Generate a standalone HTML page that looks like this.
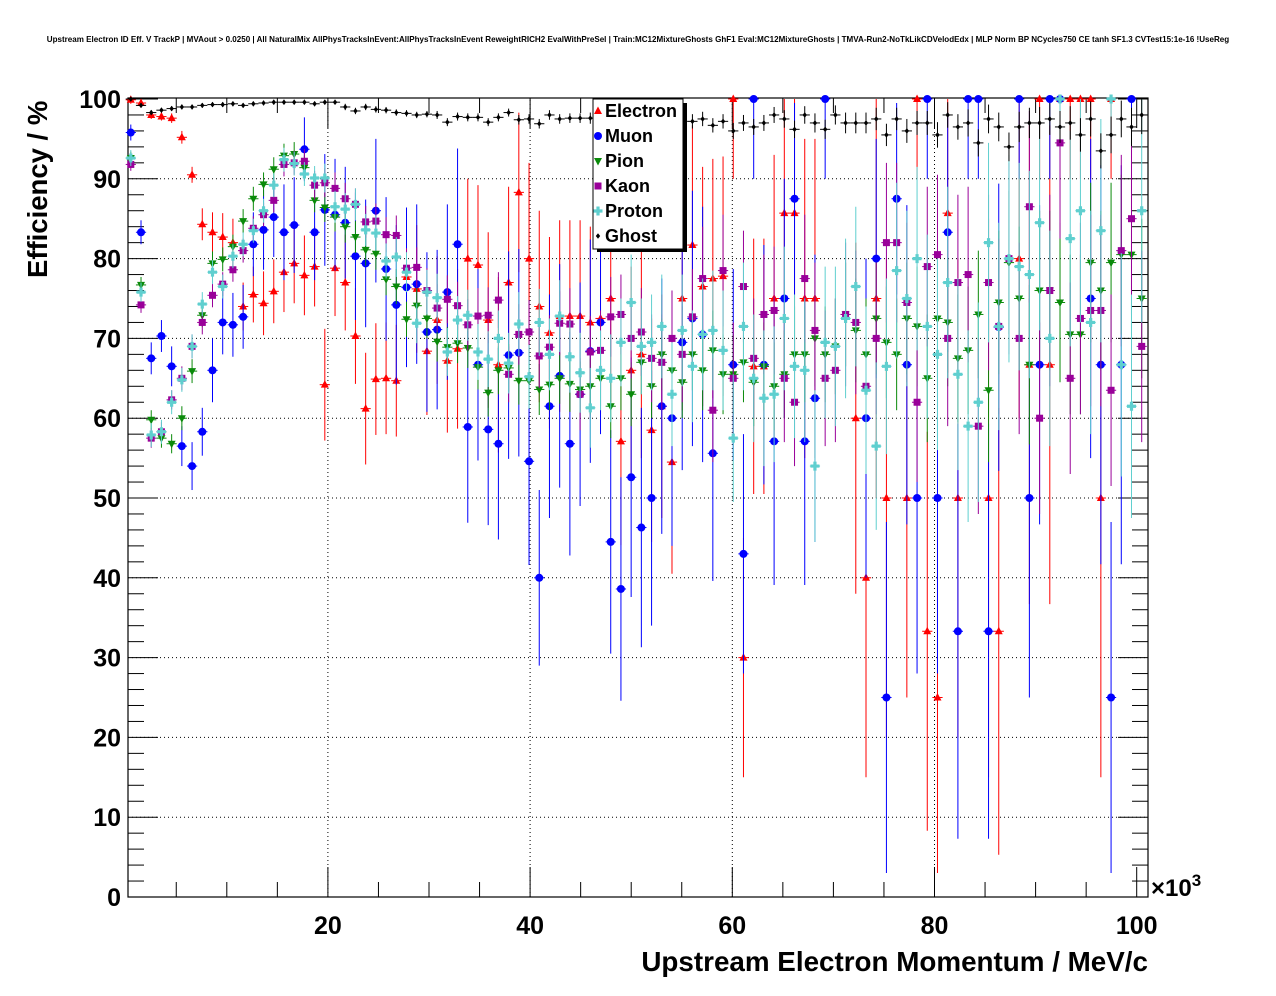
<!DOCTYPE html>
<html><head><meta charset="utf-8"><style>
body{margin:0;background:#fff;}
svg{display:block;font-family:"Liberation Sans",sans-serif;}
</style></head><body>
<svg id="chart" width="1276" height="996" viewBox="0 0 1276 996" xmlns="http://www.w3.org/2000/svg">
<rect x="0" y="0" width="1276" height="996" fill="#fff"/>
<text x="638" y="42" font-size="8.05" font-weight="bold" text-anchor="middle">Upstream Electron ID Eff. V TrackP | MVAout &gt; 0.0250 | All NaturalMix AllPhysTracksInEvent:AllPhysTracksInEvent ReweightRICH2 EvalWithPreSel | Train:MC12MixtureGhosts GhF1 Eval:MC12MixtureGhosts | TMVA-Run2-NoTkLikCDVelodEdx | MLP Norm BP NCycles750 CE tanh SF1.3 CVTest15:1e-16 !UseReg</text>
<g id="grid"></g>
<g id="axes"></g>
<g id="series"></g>
<text transform="translate(47,278) rotate(-90)" font-size="27.5" font-weight="bold">Efficiency / %</text>
<text x="1148" y="971" font-size="27.8" font-weight="bold" text-anchor="end">Upstream Electron Momentum / MeV/c</text>
<text x="1151" y="896" font-size="24" font-weight="bold">×10<tspan font-size="17" dy="-10">3</tspan></text>
<g id="legend"></g>
</svg>
<script>
const yTicks=[0,10,20,30,40,50,60,70,80,90,100];
const xTicks=[20,40,60,80,100];
const binWidth=1.01;
const seriesNames=["Electron","Muon","Pion","Kaon","Proton","Ghost"];
const electronVals=[99.9,99.5,98,97.8,97.6,95.2,90.5,84.3,83.3,82.7,82,74,75.5,74.4,75.9,78.3,79.4,77.9,79,64.2,78.8,77,70.3,61.2,64.9,65,64.7,77.7,76.2,68.4,72.3,67.2,68.7,80,79.2,72.3,66.7,77,88.3,80,74,70.7,72.8,72.8,72.8,72,72.5,75,57.1,66,68,58.5,61.5,54.5,75,81.7,76.5,77.5,77.8,100,30,66.5,66.5,75,85.7,85.7,75,75,null,null,null,60,40,75,50,null,50,100,33.3,25,85.7,50,null,null,50,33.3,null,80,66.7,100,66.7,100,100,100,100,50,100,null,null,null];
const electronErr=[0.5,0.5,0.5,0.5,0.6,0.8,1,2,2.5,3,3,3,3.5,4,4,5,5,5,5,7,6,6,6,7,7,7,7,8,8,8,8,9,10,10,10,11,11,12,10,12,12,12,12,12,12,12,12,13,13,13,13,14,14,14,14,15,15,15,15,10,15,16,16,18,20,20,20,20,0,0,0,22,25,25,30,0,25,10,25,22,20,30,0,0,35,28,0,20,30,10,30,10,10,10,10,35,10,0,0,0];
const muonVals=[95.8,83.3,67.5,70.3,66.5,56.5,54,58.3,66,72,71.7,72.7,81.8,83.6,85.2,83.3,84.2,93.7,83.3,86.1,85.5,84.5,80.3,79.4,86,78.7,74.2,76.4,76.8,70.8,71.1,75.8,81.8,58.9,66.7,58.6,56.8,67.9,68.2,54.6,40,61.5,65.3,56.8,63,68.4,72,44.5,38.6,52.6,46.3,50,61.5,60,69.5,72.5,70.5,55.6,null,66.7,43,100,66.7,57.1,75,87.5,57.1,62.5,100,null,null,null,60,80,25,87.5,66.7,50,100,50,83.3,33.3,100,100,33.3,71.4,null,100,50,66.7,100,100,null,null,75,66.7,25,66.7,100,null];
const muonErr=[1,1.5,2,2,2.5,2.5,3,3,4,4,4,4,4,5,5,6,6,4,6,7,7,7,8,8,9,9,10,10,10,10,10,11,12,12,12,12,12,13,13,13,11,14,14,14,14,14,14,14,14,15,15,16,16,16,16,16,16,16,0,12,15,10,15,18,15,12,18,18,10,0,0,0,20,15,22,12,20,22,10,22,15,26,10,10,26,18,0,10,25,20,10,10,0,0,20,25,22,25,10,0];
const pionVals=[92.6,76.7,59.8,57.5,56.8,60,65.9,72.9,79.4,79.9,81.5,84.7,87.5,89.3,91.2,92.9,93.1,91.4,87.3,86.4,85.2,84,82.7,81.1,80.6,77.4,76.5,72.4,74.1,72.5,69.6,68.9,69.4,68.8,66.4,63.2,66,66.3,64.7,64.7,63.6,64.2,65,64.3,63.6,64,65,61.5,65,63,67,64,68,66,64.5,68,66,68.5,65.5,65.5,67,64.5,66.5,64,65.5,68,68,70,68,69,73,71,68,72.5,69.5,68,72.5,71.5,65,72.5,72,67.5,68.5,73,63.5,74.5,79.5,75,66.7,76,76,74.5,70.5,70.5,79.5,76,79.5,80.5,80.5,75];
const pionErr=[0.8,1,1.2,1.2,1.2,1.5,1.5,1.5,1.5,1.5,1.5,1.5,1.5,1.5,1.5,1.5,1.5,1.5,1.5,1.8,1.8,2,2,2,2,2,2.2,2.2,2.2,2.5,2.5,2.5,2.5,2.5,2.8,3,3,3,3,3,3.2,3.2,3.2,3.5,3.5,3.5,3.5,4,4,4,4,4,4.5,4.5,4.5,4.5,5,5,5,5,5,5.5,5.5,5.5,5.5,6,6,6,6,6,6.5,6.5,7,7,7,7,7,7.5,8,8,8,8,8,8,9,9,9,9,10,10,10,10,10,10,10,10,10,10,10,10];
const kaonVals=[91.8,74.2,57.5,58.3,62.3,65,69,72,75.4,76.8,78.6,81,83.8,85.5,87.3,91.8,92,92.2,89.2,89.5,88.8,87.5,86.8,84.6,84.7,83,82.9,78.8,78.9,76,73.8,74.9,74.1,71.7,72.8,72.9,74.8,65.5,70.5,70.8,67.8,68.9,71.9,71.8,63,68.3,68.5,72.7,73,70,70.8,67.5,67,70,68,72.7,77.5,61,78.5,65,76.5,67.5,73,73.5,65,62,77.5,71,65,66,73,72,64,70,82,82,74.5,62,79,80.5,70,77,78,59,77,71.5,80,70,86.5,60,76,94.5,65,72.5,73.5,73.5,63.5,81,85,69];
const kaonErr=[0.8,1,1.2,1.2,1.2,1.5,1.5,1.5,1.5,1.5,1.5,1.5,1.5,1.5,1.5,1.5,1.5,1.5,1.8,1.8,2,2,2,2,2.2,2.2,2.5,2.5,2.5,2.8,3,3,3,3.2,3.5,3.5,3.5,3.5,3.8,4,4,4,4,4.5,4.5,4.5,5,5,5,5,5.5,5.5,6,6,6,6,6.5,6.5,7,7,7,7.5,7.5,8,8,8,8,8.5,8.5,9,9,9,9.5,9.5,10,10,10,10,10,10,11,11,11,11,11,11,12,12,12,12,12,12,12,12,12,12,12,12,12,12];
const protonVals=[92.6,75.8,57.9,58.3,62,64.8,69,74.3,78.3,76.5,80.3,81.8,83.5,86,89.2,92.4,91.9,90.6,90.1,90.1,86.5,86.2,86.8,83.6,83.2,79.7,80.2,78.3,71.9,75.8,75.1,68.3,72.3,72.9,68.3,67.4,70,66.9,71.8,65.2,72,68,72.8,67.7,65.7,61.3,66,65,69.5,74.5,69,69.5,71.5,63,71,66.5,70.5,71,68.5,57.5,71.5,65,62.5,63,72.5,66.5,66,54,69.5,69,72.5,76.5,63.5,56.5,66.5,78.5,75,80,71.5,68,77,65.5,59,62,82,71.5,80,79,78,84.5,70,100,82.5,86,72,83.5,100,66.7,61.5,86];
const protonErr=[1,1.2,1.5,1.5,1.5,1.5,1.5,1.5,1.5,1.5,1.5,1.5,1.5,1.5,1.5,1.5,1.5,1.5,1.5,1.8,2,2,2,2,2.2,2.2,2.5,2.5,2.5,2.8,3,3,3,3.2,3.5,3.5,3.5,3.8,4,4,4.2,4.5,4.5,4.5,5,5,5,5.5,5.5,6,6,6,6.5,6.5,7,7,7,7.5,7.5,8,8,8,8.5,8.5,9,9,9,9.5,9.5,10,10,10,10.5,10.5,11,11,11,11.5,11.5,12,12,12,12,12.5,12.5,13,13,13,13,13.5,13.5,5,13.5,14,14,14,5,14,14,14];
const ghostVals=[100,99.2,98.3,98.6,98.8,99,99,99.2,99.3,99.3,99.4,99.2,99.4,99.5,99.6,99.6,99.6,99.6,99.4,99.6,99.6,99,98.5,99,98.7,98.6,98.3,98.2,98,98.1,98,97.1,97.8,97.7,97.7,97.1,97.7,98.3,97.4,97.5,96.9,98,97.5,97.6,97.6,97.6,97.5,97.5,97.5,97.4,97.4,97.4,97.3,97.3,97.2,97.2,97.5,96.7,97.2,96,97,96.5,97,98,97.5,96.2,98,97,96.2,98,97,97,97,97.5,95.5,97.5,96,97,97,95.5,98,96.5,97,94.5,97.5,96.5,94,96.5,97,97,97.5,96.5,97,95.5,97.5,93.5,95.5,97.5,96.5,98];
const ghostErr=[0.2,0.3,0.3,0.3,0.3,0.3,0.3,0.3,0.3,0.3,0.3,0.3,0.3,0.3,0.3,0.3,0.3,0.3,0.3,0.3,0.3,0.4,0.4,0.4,0.4,0.4,0.4,0.4,0.4,0.4,0.5,0.5,0.5,0.5,0.5,0.5,0.5,0.5,0.6,0.6,0.6,0.6,0.6,0.6,0.6,0.7,0.7,0.7,0.7,0.7,0.8,0.8,0.8,0.8,0.8,0.9,0.9,0.9,0.9,1,1,1,1,1,1.1,1.1,1.1,1.2,1.2,1.2,1.3,1.3,1.3,1.4,1.4,1.4,1.5,1.5,1.5,1.6,1.6,1.6,1.7,1.7,1.8,1.8,1.8,1.9,1.9,2,2,2,2.1,2.1,2.2,2.2,2.3,2.3,2.4,2.4];

const NS="http://www.w3.org/2000/svg";
const X0=128,X1=1148,Y0=897,Y1=98;
function xPx(v){return 125.7+10.11*v;}
function yPx(v){return 897-7.98*v;}
function mk(tag,attrs,parent){const e=document.createElementNS(NS,tag);for(const k in attrs)e.setAttribute(k,attrs[k]);parent.appendChild(e);return e;}

const grid=document.getElementById('grid');
yTicks.forEach(t=>{if(t>0&&t<100){const l=mk('line',{x1:X0,x2:X1,y1:yPx(t),y2:yPx(t),stroke:'#000','stroke-width':1,'stroke-dasharray':'1,3'},grid);

}});
xTicks.forEach(t=>{if(t<100){const l=mk('line',{x1:xPx(t),x2:xPx(t),y1:Y0,y2:Y1,stroke:'#000','stroke-width':1,'stroke-dasharray':'1,3'},grid);

}});

const axes=document.getElementById('axes');
const frame=mk('rect',{x:X0,y:Y1,width:X1-X0,height:Y0-Y1,fill:'none',stroke:'#000','stroke-width':1.2},axes);


for(let v=0;v<=100;v+=2){const y=yPx(v);const len=(v%10===0)?30:16;
mk('line',{x1:X0,x2:X0+len,y1:y,y2:y,stroke:'#000','stroke-width':1},axes);
mk('line',{x1:X1,x2:X1-len,y1:y,y2:y,stroke:'#000','stroke-width':1},axes);}
for(let v=5;v<=100;v+=5){const x=xPx(v);const len=(v%20===0)?30:15;
mk('line',{x1:x,x2:x,y1:Y0,y2:Y0-len,stroke:'#000','stroke-width':1},axes);
mk('line',{x1:x,x2:x,y1:Y1,y2:Y1+len,stroke:'#000','stroke-width':1},axes);}
yTicks.forEach(t=>{const tx=mk('text',{x:121,y:yPx(t)+9,'font-size':25,'font-weight':'bold','text-anchor':'end'},axes);tx.textContent=t;

});
xTicks.forEach(t=>{const tx=mk('text',{x:xPx(t),y:934,'font-size':25,'font-weight':'bold','text-anchor':'middle'},axes);tx.textContent=t;

});

const colors=['#ff0000','#0000ff','#0a8a0a','#990099','#5fcfcf','#000000'];
const vals=[electronVals,muonVals,pionVals,kaonVals,protonVals,ghostVals];
const errs=[electronErr,muonErr,pionErr,kaonErr,protonErr,ghostErr];
const shapes=['tri-up','circle','tri-down','square','cross','diamond'];
function marker(shape,x,y,c,parent){
 if(shape==='tri-up')return mk('polygon',{points:`${x},${y-4.5} ${x-4},${y+3} ${x+4},${y+3}`,fill:c},parent);
 if(shape==='tri-down')return mk('polygon',{points:`${x},${y+4.5} ${x-4},${y-3} ${x+4},${y-3}`,fill:c},parent);
 if(shape==='circle')return mk('circle',{cx:x,cy:y,r:4,fill:c},parent);
 if(shape==='square')return mk('rect',{x:x-3.5,y:y-3.5,width:7,height:7,fill:c},parent);
 if(shape==='cross')return mk('path',{d:`M${x-1.6},${y-4.5}h3.2v2.9h2.9v3.2h-2.9v2.9h-3.2v-2.9h-2.9v-3.2h2.9z`,fill:c},parent);
 return mk('polygon',{points:`${x},${y-2.8} ${x-2.2},${y} ${x},${y+2.8} ${x+2.2},${y}`,fill:c},parent);
}
const sg=document.getElementById('series');
vals.forEach((arr,s)=>{
 const g=mk('g',{},sg);
 
 
 arr.forEach((v,i)=>{
  if(v===null)return;
  const cx=binWidth*(i+0.5);const x=xPx(cx);const y=yPx(v);
  const e=errs[s][i]||0;
  const yt=yPx(Math.min(100,v+e)),yb=yPx(Math.max(0,v-e));
  const pg=mk('g',{},g);
  
  
  mk('line',{x1:xPx(cx-binWidth/2),x2:xPx(cx+binWidth/2),y1:y,y2:y,stroke:colors[s],'stroke-width':1},pg);
  if(e>0)mk('line',{x1:x,x2:x,y1:yt,y2:yb,stroke:colors[s],'stroke-width':1},pg);
  marker(shapes[s],x,y,colors[s],pg);
 });
});

const lg=document.getElementById('legend');
mk('rect',{x:597,y:103,width:90,height:149,fill:'#000'},lg);
const lbox=mk('rect',{x:593,y:99,width:90,height:150,fill:'#fff',stroke:'#000','stroke-width':1},lg);


seriesNames.forEach((n,s)=>{
 const y=111+25*s;
 const eg=mk('g',{},lg);
 
 
 marker(shapes[s],598,y,colors[s],eg);
 const t=mk('text',{x:605,y:y+6,'font-size':18,'font-weight':'bold'},eg);t.textContent=n;
});
</script>
</body></html>
